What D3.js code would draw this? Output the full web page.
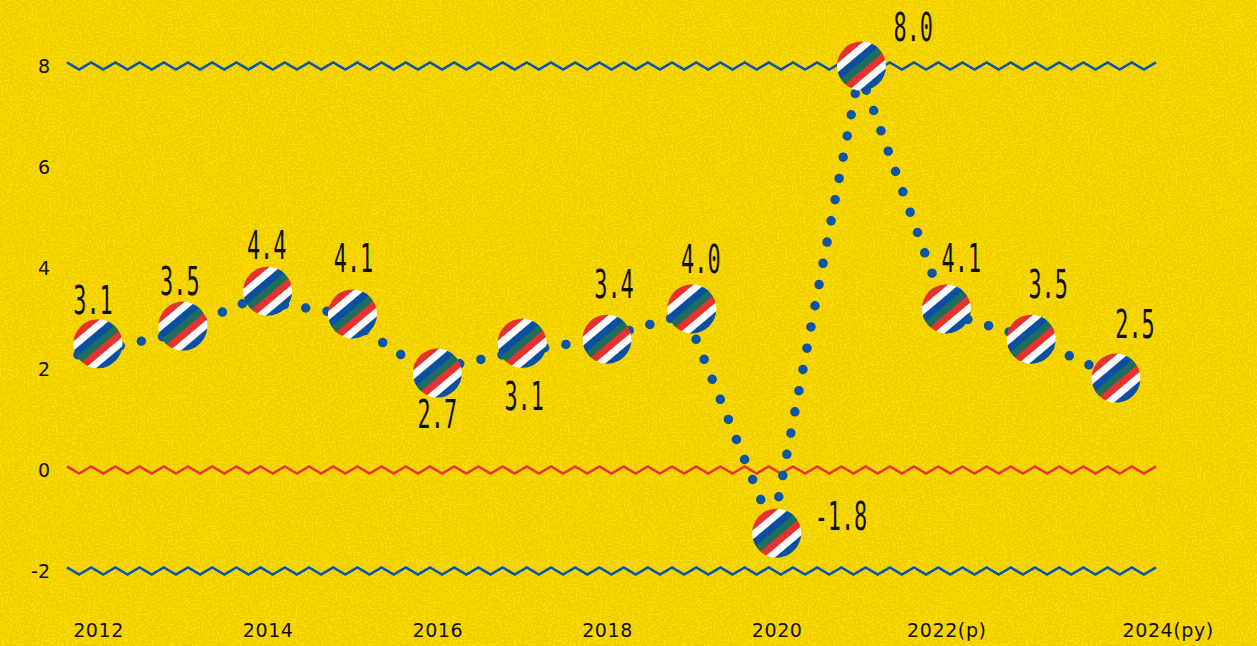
<!DOCTYPE html>
<html>
<head>
<meta charset="utf-8">
<script src="https://cdn.jsdelivr.net/npm/d3@7"></script>
<style>
  html, body { margin: 0; padding: 0; background: #f2cf00; }
  svg { display: block; }
  .tick text { font-family: "DejaVu Sans", sans-serif; font-size: 19px; fill: #111; }
</style>
</head>
<body>
<svg id="chart"></svg>
<script>
// years on the x axis
const years = [2012, 2013, 2014, 2015, 2016, 2017, 2018, 2019, 2020, 2021, 2022, 2023, 2024]
// where the dotted line runs
const lineValues = [2.28, 2.65, 3.37, 3.11, 1.96, 2.32, 2.59, 3.09, -1.17, 7.90, 3.11, 2.59, 1.80]
// where the striped markers sit
const markerValues = [2.50, 2.85, 3.54, 3.09, 1.92, 2.51, 2.59, 3.19, -1.25, 8.0, 3.19, 2.59, 1.82]
// printed value labels
const valueLabels = ["3.1", "3.5", "4.4", "4.1", "2.7", "3.1", "3.4", "4.0", "-1.8", "8.0", "4.1", "3.5", "2.5"]
const labelSide = ["above", "above", "above", "above", "below", "below", "above", "above", "right", "upright", "above", "above", "above"]
// axis ticks
const xTickYears = [2012, 2014, 2016, 2018, 2020, 2022, 2024]
const xTickLabels = ["2012", "2014", "2016", "2018", "2020", "2022(p)", "2024(py)"]
const yTicks = [-2, 0, 2, 4, 6, 8]
// wavy reference lines
const refLines = [8, 0, -2]
const refColors = ["#0b55a6", "#e8352e", "#0b55a6"]

const WIDTH = 1257
const HEIGHT = 646

const svg = d3.select("#chart")
  .attr("width", WIDTH)
  .attr("height", HEIGHT)

const defs = svg.append("defs")

// grainy yellow paper
const grain = defs.append("filter")
  .attr("id", "grain")
  .attr("x", 0).attr("y", 0).attr("width", "100%").attr("height", "100%")
  .attr("color-interpolation-filters", "sRGB")
grain.append("feTurbulence")
  .attr("type", "fractalNoise")
  .attr("baseFrequency", 0.5)
  .attr("numOctaves", 1)
  .attr("seed", 11)
grain.append("feColorMatrix")
  .attr("type", "matrix")
  .attr("values", "0 0 0 0 0.99  0 0 0 0 0.87  0 0 0 0 0  9 0 0 0 -4.3")

svg.append("rect")
  .attr("width", WIDTH).attr("height", HEIGHT)
  .attr("fill", "#f1ce00")
svg.append("rect")
  .attr("width", WIDTH).attr("height", HEIGHT)
  .attr("filter", "url(#grain)")

// striped fill for markers
const stripeColors = ["#1e6e5b", "#e5322f", "#ffffff", "#0b4fa3"]
const STRIPE = 7
const pattern = defs.append("pattern")
  .attr("id", "stripes")
  .attr("patternUnits", "userSpaceOnUse")
  .attr("width", 40)
  .attr("height", STRIPE * stripeColors.length)
  .attr("y", -STRIPE / 2)
  .attr("patternTransform", "rotate(-40)")
pattern.selectAll("rect")
  .data(stripeColors)
  .join("rect")
  .attr("x", 0)
  .attr("y", (d, i) => i * STRIPE)
  .attr("width", 40)
  .attr("height", STRIPE + 0.3)
  .attr("fill", d => d)

// scales
const y = d3.scaleLinear().domain([-2, 8]).range([571, 66])
const x = d3.scaleLinear().domain([2012, 2024]).range([98, 1116])
const xLine = d3.scaleLinear().domain([2012, 2024]).range([78, 1120])

// y axis
const yAxis = svg.append("g")
  .attr("transform", "translate(50,0)")
  .call(d3.axisLeft(y).tickValues(yTicks).tickSize(0).tickPadding(0).tickFormat(d => String(d)))
yAxis.select(".domain").remove()

// x axis
const xAxis = svg.append("g")
  .attr("transform", "translate(0,623)")
  .call(d3.axisBottom(x).tickValues(xTickYears).tickSize(0).tickPadding(0)
    .tickFormat((d, i) => xTickLabels[i]))
xAxis.select(".domain").remove()
xAxis.selectAll(".tick text").attr("dy", "0.71em").attr("letter-spacing", 0.6)
xAxis.selectAll(".tick").filter(d => d === 2024).select("text")
  .attr("text-anchor", "start").attr("x", 6)

// zigzag reference lines
const zig = d3.line()
refLines.forEach((v, k) => {
  const pts = []
  for (let i = 0, px = 67; px <= 1168; i++, px += 12.1) {
    pts.push([px, y(v) + (i % 2 ? 3.6 : -3.6)])
  }
  svg.append("path")
    .attr("d", zig(pts))
    .attr("fill", "none")
    .attr("stroke", refColors[k])
    .attr("stroke-width", 2.6)
    .attr("stroke-linejoin", "miter")
})

// dotted line
const line = d3.line()
  .x((d, i) => xLine(years[i]))
  .y(d => y(d))
svg.append("path")
  .datum(lineValues)
  .attr("d", line)
  .attr("fill", "none")
  .attr("stroke", "#0b55a6")
  .attr("stroke-width", 9.5)
  .attr("stroke-linecap", "round")
  .attr("stroke-dasharray", "0 21.6")

// markers
svg.append("g")
  .selectAll("g")
  .data(markerValues)
  .join("g")
  .attr("transform", (d, i) => `translate(${x(years[i])},${y(d)})`)
  .append("circle")
  .attr("r", 24.5)
  .attr("fill", "url(#stripes)")

// value labels
const labelOffset = {
  above: { dx: 15, dy: -41, anchor: "middle" },
  below: { dx: 12, dy: 57, anchor: "middle" },
  right: { dx: 42, dy: 1, anchor: "start" },
  upright: { dx: 34, dy: -30, anchor: "start" }
}
svg.append("g")
  .selectAll("text")
  .data(valueLabels)
  .join("text")
  .attr("transform", (d, i) => {
    const o = labelOffset[labelSide[i]]
    return `translate(${xLine(years[i]) + o.dx},${y(lineValues[i]) + o.dy}) scale(0.56,1)`
  })
  .attr("text-anchor", (d, i) => labelOffset[labelSide[i]].anchor)
  .attr("font-family", "'DejaVu Sans Mono', monospace")
  .attr("font-size", 39)
  .attr("fill", "#111")
  .text(d => d)
</script>
</body>
</html>
